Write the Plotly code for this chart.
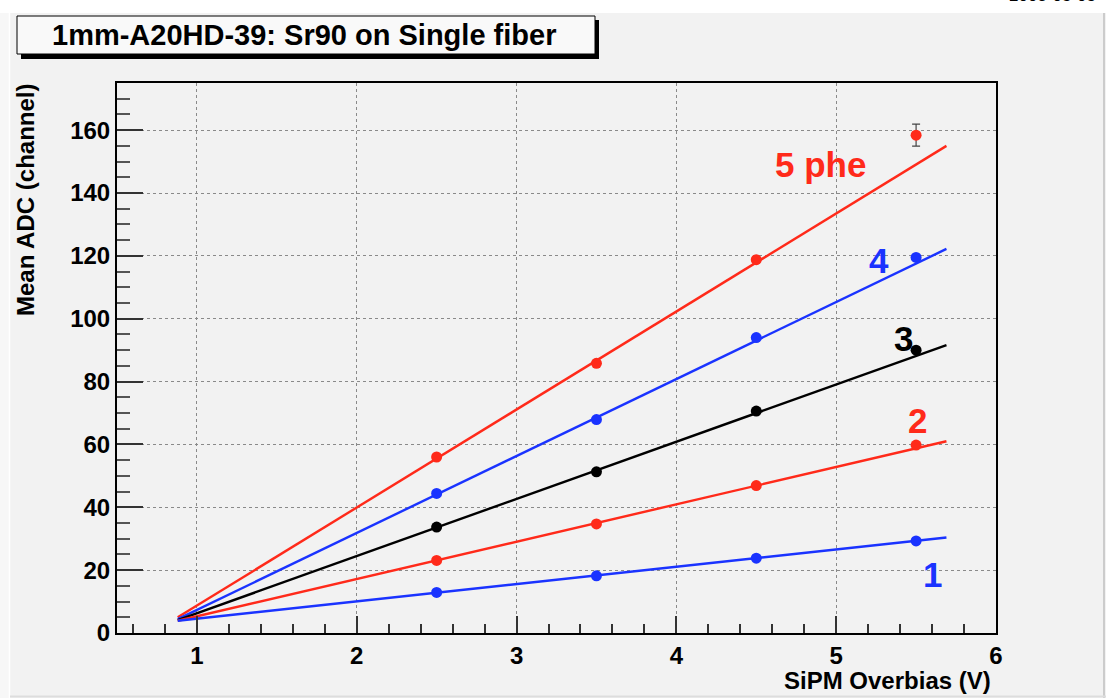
import plotly.graph_objects as go

# ---------------- data ----------------
bias_v = [2.5, 3.5, 4.5, 5.5]
adc_5phe = [56.0, 85.8, 118.8, 158.4]
adc_4phe = [44.4, 67.9, 94.0, 119.5]
adc_3phe = [33.7, 51.3, 70.6, 90.0]
adc_2phe = [23.1, 34.7, 46.9, 59.8]
adc_1phe = [12.9, 18.2, 23.8, 29.3]
err_5phe = [0.5, 0.6, 0.7, 3.5]

fit_x = [0.88, 5.69]
fit_5phe = [5.0, 155.0]
fit_4phe = [4.4, 122.2]
fit_3phe = [4.1, 91.6]
fit_2phe = [3.9, 61.0]
fit_1phe = [3.9, 30.4]

labels = ["5 phe", "4", "3", "2", "1"]
label_x = [4.9, 5.27, 5.42, 5.51, 5.6]
label_y = [149.0, 118.6, 93.8, 67.5, 18.5]

x_ticks = [1, 2, 3, 4, 5, 6]
y_ticks = [0, 20, 40, 60, 80, 100, 120, 140, 160]

RED = "#ff2a1a"
BLUE = "#1a33ff"
BLACK = "#000000"
series = [
    (adc_5phe, fit_5phe, RED),
    (adc_4phe, fit_4phe, BLUE),
    (adc_3phe, fit_3phe, BLACK),
    (adc_2phe, fit_2phe, RED),
    (adc_1phe, fit_1phe, BLUE),
]

# ---------------- layout geometry ----------------
W, H = 1106, 698
L, R, T, B = 117, 996, 83, 633
PW, PH = R - L, B - T


def px(x):
    return (x - L) / PW


def py(y):
    return (B - y) / PH


FONT = "Liberation Sans, Arial, Helvetica, sans-serif"

fig = go.Figure()

for i, (pts, fit, col) in enumerate(series):
    fig.add_trace(go.Scatter(x=fit_x, y=fit, mode="lines",
                             line=dict(color=col, width=2.4),
                             hoverinfo="skip", showlegend=False))
for i, (pts, fit, col) in enumerate(series):
    kw = {}
    if i == 0:
        kw["error_y"] = dict(type="data", array=err_5phe, visible=True,
                             color="#444444", thickness=1.2, width=4)
    fig.add_trace(go.Scatter(x=bias_v, y=pts, mode="markers",
                             marker=dict(color=col, size=11),
                             showlegend=False, **kw))

for txt, lx, ly, (_, _, col) in zip(labels, label_x, label_y, series):
    fig.add_annotation(x=lx, y=ly, xref="x", yref="y", text="<b>%s</b>" % txt,
                       showarrow=False, font=dict(family=FONT, size=35, color=col))

shapes = [
    # white strip at the very top
    dict(type="rect", xref="paper", yref="paper", x0=px(-5), x1=px(W + 5),
         y0=py(13), y1=py(-5), fillcolor="#ffffff", line=dict(width=0), layer="below"),
    # left light border
    dict(type="rect", xref="paper", yref="paper", x0=px(-5), x1=px(9),
         y0=py(H + 5), y1=py(13), fillcolor="#f7f7f7", line=dict(width=0), layer="below"),
    dict(type="line", xref="paper", yref="paper", x0=px(9.5), x1=px(9.5),
         y0=py(H), y1=py(13), line=dict(color="#ffffff", width=1.5), layer="below"),
    # right and bottom grey borders
    dict(type="line", xref="paper", yref="paper", x0=px(1104), x1=px(1104),
         y0=py(H), y1=py(13), line=dict(color="#cccccc", width=2), layer="below"),
    dict(type="line", xref="paper", yref="paper", x0=px(10), x1=px(W),
         y0=py(696.5), y1=py(696.5), line=dict(color="#dddddd", width=2), layer="below"),
    # title box shadow + box
    dict(type="rect", xref="paper", yref="paper", x0=px(21), x1=px(599),
         y0=py(59), y1=py(20), fillcolor="#000000", line=dict(width=0), layer="below"),
    dict(type="rect", xref="paper", yref="paper", x0=px(17), x1=px(595),
         y0=py(54), y1=py(16), fillcolor="#f9f9f9",
         line=dict(color="#000000", width=1), layer="below"),
]

fig.add_annotation(x=px(304), y=py(35), xref="paper", yref="paper",
                   text="<b>1mm-A20HD-39: Sr90 on Single fiber</b>", showarrow=False,
                   xanchor="center", yanchor="middle",
                   font=dict(family=FONT, size=29, color="#000000"))
fig.add_annotation(x=px(1052), y=py(-5), xref="paper", yref="paper",
                   text="2008-05-05", showarrow=False, xanchor="center", yanchor="middle",
                   font=dict(family=FONT, size=17, color="#000000"))
fig.add_annotation(x=px(993), y=py(680), xref="paper", yref="paper",
                   text="<b>SiPM Overbias (V)</b>", showarrow=False,
                   xanchor="right", yanchor="middle",
                   font=dict(family=FONT, size=24, color="#000000"))
fig.add_annotation(x=px(25), y=py(82), xref="paper", yref="paper",
                   text="<b>Mean ADC (channel)</b>", showarrow=False, textangle=-90,
                   xanchor="center", yanchor="top",
                   font=dict(family=FONT, size=24, color="#000000"))

axis_common = dict(showline=True, linecolor="#000000", linewidth=2, mirror=True,
                   showgrid=True, gridcolor="#8a8a8a", gridwidth=1.3, griddash="dot",
                   zeroline=False, ticks="inside", tickcolor="#333333", tickwidth=1.5,
                   tickfont=dict(family=FONT, size=24, color="#000000"))

fig.update_xaxes(range=[0.5, 6.0], tickvals=x_ticks,
                 ticktext=["<b>%d</b>" % v for v in x_ticks], ticklen=17,
                 minor=dict(ticks="inside", dtick=0.2, tick0=0, ticklen=9,
                            tickcolor="#333333", tickwidth=1.5, showgrid=False),
                 **axis_common)
fig.update_yaxes(range=[0, 175], tickvals=y_ticks,
                 ticktext=["<b>%d</b>" % v for v in y_ticks], ticklen=26,
                 minor=dict(ticks="inside", dtick=5, tick0=0, ticklen=13,
                            tickcolor="#555555", tickwidth=1.5, showgrid=False),
                 **axis_common)

fig.update_layout(width=W, height=H,
                  margin=dict(l=L, r=W - R, t=T, b=H - B, pad=0),
                  paper_bgcolor="#f2f2f2", plot_bgcolor="#f2f2f2",
                  shapes=shapes, showlegend=False)

fig.write_html("out.html", config={"displayModeBar": False},
               post_script="document.body.style.margin='0';"
                           "document.body.style.overflow='hidden';")
